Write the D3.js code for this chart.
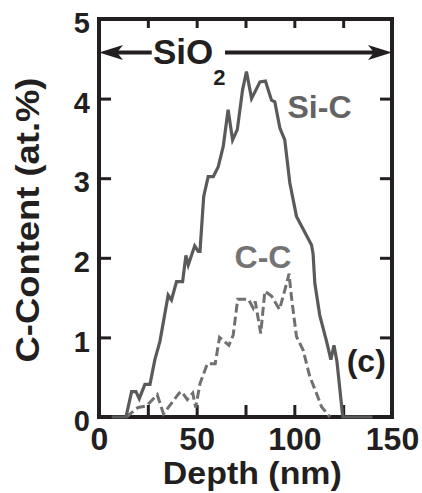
<!DOCTYPE html>
<html>
<head>
<meta charset="utf-8">
<script src="https://cdn.jsdelivr.net/npm/d3@7"></script>
<style>
  body { margin: 0; background: #fff; }
  svg text { font-family: "Liberation Sans", Arial, sans-serif; font-weight: bold; }
</style>
</head>
<body>
<div id="chart"></div>
<script>
// depth (nm) / content (at.%)
var siC = [
  [6.5, 0], [13.8, 0], [16.7, 0.32], [18.9, 0.32], [20.6, 0.23], [23.5, 0.41], [26.1, 0.41],
  [28.6, 0.72], [31.2, 0.95], [35.4, 1.53], [37.1, 1.47], [39.7, 1.70], [42.8, 1.70],
  [44.5, 2.03], [45.7, 1.91], [49, 2.15], [50.8, 2.08], [51.7, 2.08], [53.6, 2.77],
  [55.9, 3.02], [58.5, 3.02], [61, 3.14], [63.6, 3.40], [66.1, 3.86], [68.4, 3.48],
  [70.8, 3.61], [73.5, 4.11], [75.5, 4.34], [78.1, 4.0], [82.4, 4.21], [85.2, 4.22],
  [88.3, 3.98], [90, 3.96], [92.6, 3.63], [95.1, 3.48], [97.7, 2.94], [101.1, 2.52],
  [108.8, 2.16], [109.6, 2.05], [110.5, 1.68], [113, 1.28], [116.5, 0.95], [118.7, 0.72],
  [120.3, 0.90], [121.8, 0.70], [124.8, 0], [140, 0]
];
var cC = [
  [14, 0], [20, 0.12], [24.4, 0.14], [29.8, 0.28], [33, 0.04], [35.5, 0.12], [38, 0.2],
  [41, 0.30], [42.3, 0.32], [45.2, 0.22], [48, 0.30], [49.5, 0.12], [51.7, 0.42],
  [55.5, 0.67], [59.5, 0.67], [61.7, 1.0], [66.5, 0.90], [68.7, 1.03], [71, 1.48],
  [76.5, 1.48], [78.9, 1.37], [80, 1.45], [82.8, 1.05], [84.9, 1.58], [88.3, 1.52],
  [92.4, 1.35], [96.3, 1.70], [97.3, 1.80], [98.5, 1.51], [101.1, 1.01], [104.5, 0.84],
  [107.9, 0.51], [111.3, 0.30], [113.9, 0.13], [118.2, 0]
];
var xTicks = [0, 25, 50, 75, 100, 125, 150];
var xLabels = [0, 50, 100, 150];
var yTicks = [0, 1, 2, 3, 4, 5];

var svgWidth = 422;
var svgHeight = 493;
var margin = { top: 19, right: 30, bottom: 76, left: 99 };
var chartWidth = svgWidth - margin.left - margin.right;
var chartHeight = svgHeight - margin.top - margin.bottom;
var ink = "#231f20";

var svg = d3.select("#chart").append("svg")
  .attr("width", svgWidth)
  .attr("height", svgHeight);

var g = svg.append("g")
  .attr("transform", `translate(${margin.left}, ${margin.top})`);

var x = d3.scaleLinear().domain([0, 150]).range([0, chartWidth]);
var y = d3.scaleLinear().domain([0, 5]).range([chartHeight, 0]);

function styleAxis(sel) {
  sel.select(".domain").remove();
  sel.selectAll(".tick line").attr("stroke", ink).attr("stroke-width", 3);
  sel.selectAll("text").attr("fill", ink);
}

// bottom, with labels
g.append("g")
  .attr("transform", `translate(0, ${chartHeight})`)
  .call(d3.axisBottom(x).tickValues(xTicks).tickSize(-12).tickPadding(10)
    .tickFormat(d => xLabels.indexOf(d) >= 0 ? d : ""))
  .call(styleAxis)
  .selectAll("text").style("font-size", "32px");

// top
g.append("g")
  .call(d3.axisTop(x).tickValues(xTicks).tickSize(-9).tickFormat(""))
  .call(styleAxis);

// left, with labels
g.append("g")
  .call(d3.axisLeft(y).tickValues(yTicks).tickSize(-12).tickPadding(9).tickFormat(d3.format("d")))
  .call(styleAxis)
  .selectAll("text").style("font-size", "29px").attr("dy", "0.47em");

// right
g.append("g")
  .attr("transform", `translate(${chartWidth}, 0)`)
  .call(d3.axisRight(y).tickValues(yTicks).tickSize(-12).tickFormat(""))
  .call(styleAxis);

// frame
g.append("rect")
  .attr("x", 0).attr("y", 0)
  .attr("width", chartWidth).attr("height", chartHeight)
  .attr("fill", "none").attr("stroke", ink).attr("stroke-width", 4);

var line = d3.line().x(d => x(d[0])).y(d => y(d[1]));

g.append("path")
  .datum(cC)
  .attr("d", line)
  .attr("fill", "none")
  .attr("stroke", "#707070")
  .attr("stroke-width", 3)
  .attr("stroke-dasharray", "9,4");

g.append("path")
  .datum(siC)
  .attr("d", line)
  .attr("fill", "none")
  .attr("stroke", "#5a5a5a")
  .attr("stroke-width", 3.2)
  .attr("stroke-linejoin", "miter");

// SiO2 double arrow
var ay = y(4.58);
var head = function (tip, dir) {
  return `M${tip},${ay} L${tip + dir * 24},${ay - 7.5} L${tip + dir * 18},${ay} L${tip + dir * 24},${ay + 7.5} Z`;
};
g.append("line")
  .attr("x1", x(0) + 18).attr("x2", x(27)).attr("y1", ay).attr("y2", ay)
  .attr("stroke", ink).attr("stroke-width", 4);
g.append("line")
  .attr("x1", x(64.5)).attr("x2", x(150) - 18).attr("y1", ay).attr("y2", ay)
  .attr("stroke", ink).attr("stroke-width", 4);
g.append("path").attr("d", head(x(0), 1)).attr("fill", ink);
g.append("path").attr("d", head(x(150), -1)).attr("fill", ink);

var sio = g.append("text")
  .attr("x", x(27.6)).attr("y", y(4.44))
  .attr("fill", ink)
  .style("font-size", "35px")
  .text("SiO");
sio.append("tspan")
  .attr("dy", 21)
  .style("font-size", "22px")
  .text("2");

g.append("text")
  .attr("x", x(96.5)).attr("y", y(3.76))
  .attr("fill", "#636363")
  .style("font-size", "32px")
  .text("Si-C");

g.append("text")
  .attr("x", x(69.4)).attr("y", y(1.87))
  .attr("fill", "#737373")
  .style("font-size", "32px")
  .text("C-C");

g.append("text")
  .attr("x", x(126.8)).attr("y", y(0.57))
  .attr("fill", ink)
  .style("font-size", "32px")
  .text("(c)");

// axis titles
svg.append("text")
  .attr("x", margin.left + x(78.5)).attr("y", 484)
  .attr("text-anchor", "middle")
  .attr("fill", ink)
  .style("font-size", "31px")
  .attr("textLength", 179)
  .attr("lengthAdjust", "spacingAndGlyphs")
  .text("Depth (nm)");

svg.append("text")
  .attr("transform", `translate(39, ${margin.top + y(2.5) + 2}) rotate(-90)`)
  .attr("text-anchor", "middle")
  .attr("fill", ink)
  .style("font-size", "33px")
  .attr("textLength", 285)
  .attr("lengthAdjust", "spacingAndGlyphs")
  .text("C-Content (at.%)");
</script>
</body>
</html>
